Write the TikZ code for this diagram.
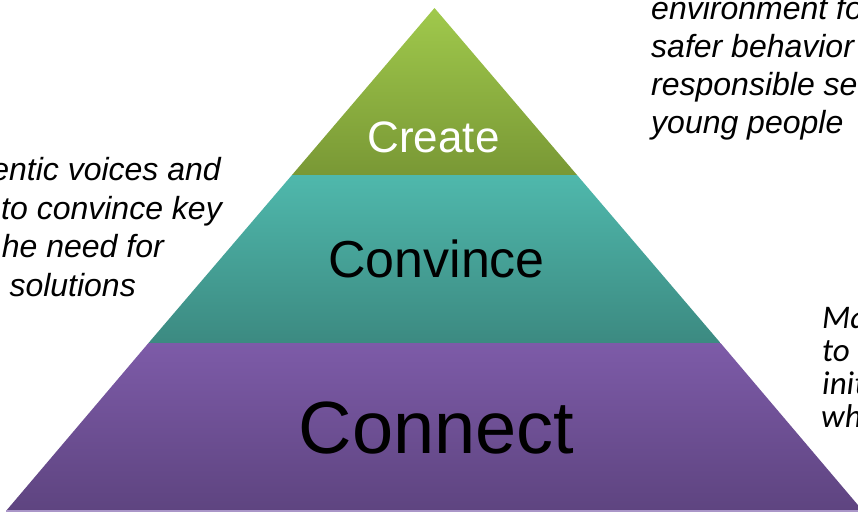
\documentclass[tikz,border=0pt]{standalone}
\usepackage{fontspec}
\setmainfont{Liberation Sans}
\newfontfamily\calibrifont{Carlito}
\definecolor{greentop}{RGB}{160,201,76}
\definecolor{greenbot}{RGB}{121,152,53}
\definecolor{tealtop}{RGB}{79,184,172}
\definecolor{tealbot}{RGB}{60,138,129}
\definecolor{purptop}{RGB}{125,91,168}
\definecolor{purpbot}{RGB}{94,68,128}
\definecolor{purpedge}{RGB}{170,150,200}
\begin{document}
\begin{tikzpicture}[x=1pt,y=-1pt,
  sidetext/.style={font=\fontsize{32}{38}\selectfont\itshape, text=black, inner sep=0pt},
  notetext/.style={font=\calibrifont\fontsize{33}{33}\selectfont\itshape, text=black, inner sep=0pt},
  bandlabel/.style={inner sep=0pt, anchor=base}]
  \useasboundingbox (0,0) rectangle (858,514);
  \clip (0,0) rectangle (858,514);
  \fill[white] (0,0) rectangle (858,514);

  % pyramid geometry: apex (434.5,8), half width grows 0.854 per unit of depth
  \coordinate (apex) at (434.5,8);
  \coordinate (cl) at (292,175);   \coordinate (cr) at (577,175);
  \coordinate (vl) at (148.5,343); \coordinate (vr) at (720.5,343);
  \coordinate (bl) at (6,511);     \coordinate (br) at (863,511);

  % bands
  \shade[top color=greentop, bottom color=greenbot] (apex) -- (cr) -- (cl) -- cycle;
  \shade[top color=tealtop, bottom color=tealbot] (cl) -- (cr) -- (vr) -- (vl) -- cycle;
  \shade[top color=purptop, bottom color=purpbot] (vl) -- (vr) -- (br) -- (bl) -- cycle;
  \draw[line width=1.5pt, purpedge] (bl) -- (br);

  % band labels
  \node[bandlabel, text=white, font=\fontsize{44}{44}\selectfont] (create) at (433.5,152) {Create};
  \node[bandlabel, text=black, font=\fontsize{52}{52}\selectfont] (convince) at (436.5,277) {Convince};
  \node[bandlabel, text=black, font=\fontsize{74}{74}\selectfont] (connect) at (436.5,453) {Connect};

  % left note
  \node[sidetext, anchor=base east] (l1) at (221,180) {entic voices and};
  \node[sidetext, anchor=base east] (l2) at (222,219) {to convince key};
  \node[sidetext, anchor=base east] (l3) at (164,257) {he need for};
  \node[sidetext, anchor=base east] (l4) at (136,296) {solutions};

  % top right note
  \node[sidetext, anchor=base west] (r1) at (651,19) {environment fo};
  \node[sidetext, anchor=base west] (r2) at (651,57) {safer behavior};
  \node[sidetext, anchor=base west] (r3) at (651,95) {responsible se};
  \node[sidetext, anchor=base west] (r4) at (651,133) {young people};

  % bottom right note
  \node[notetext, anchor=base west] (b1) at (822,328) {Ma};
  \node[notetext, anchor=base west] (b2) at (822,361) {to};
  \node[notetext, anchor=base west] (b3) at (822,394) {init};
  \node[notetext, anchor=base west] (b4) at (821,427) {wh};
\end{tikzpicture}
\end{document}
